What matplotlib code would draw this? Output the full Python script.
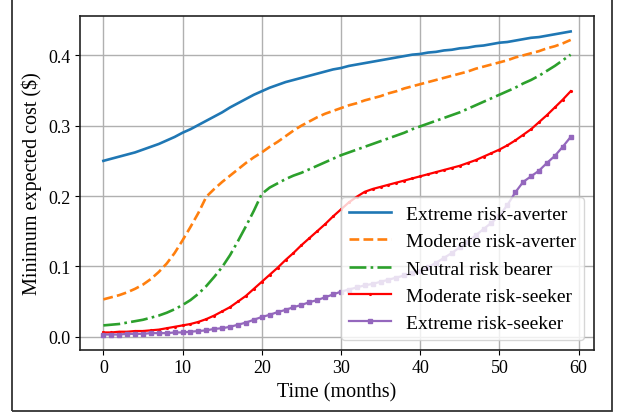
import matplotlib
matplotlib.use('Agg')
import matplotlib.pyplot as plt
from matplotlib.patches import Rectangle

# --- donnees (cout minimum attendu par mois) ---
mois = list(range(60))

extreme_averse = [0.250, 0.253, 0.256, 0.259, 0.262, 0.266, 0.270, 0.274, 0.279, 0.284,
                  0.290, 0.295, 0.301, 0.307, 0.313, 0.319, 0.326, 0.332, 0.338, 0.344,
                  0.349, 0.354, 0.358, 0.362, 0.365, 0.368, 0.371, 0.374, 0.377, 0.380,
                  0.382, 0.385, 0.387, 0.389, 0.391, 0.393, 0.395, 0.397, 0.399, 0.401,
                  0.402, 0.404, 0.405, 0.407, 0.408, 0.410, 0.411, 0.413, 0.414, 0.416,
                  0.418, 0.419, 0.421, 0.423, 0.425, 0.426, 0.428, 0.430, 0.432, 0.434]

moderate_averse = [0.053, 0.056, 0.059, 0.063, 0.068, 0.074, 0.082, 0.092, 0.104, 0.119,
                   0.137, 0.156, 0.176, 0.199, 0.210, 0.220, 0.229, 0.238, 0.247, 0.255,
                   0.262, 0.270, 0.277, 0.285, 0.293, 0.300, 0.306, 0.312, 0.317, 0.321,
                   0.325, 0.329, 0.332, 0.336, 0.339, 0.342, 0.346, 0.349, 0.353, 0.356,
                   0.359, 0.362, 0.365, 0.368, 0.371, 0.374, 0.377, 0.381, 0.384, 0.387,
                   0.390, 0.393, 0.397, 0.400, 0.403, 0.406, 0.410, 0.413, 0.417, 0.422]

neutre = [0.016, 0.017, 0.018, 0.020, 0.022, 0.024, 0.027, 0.030, 0.034, 0.039,
          0.045, 0.052, 0.061, 0.072, 0.085, 0.099, 0.116, 0.136, 0.157, 0.179,
          0.203, 0.212, 0.218, 0.224, 0.229, 0.233, 0.238, 0.243, 0.248, 0.253,
          0.258, 0.262, 0.266, 0.270, 0.274, 0.278, 0.282, 0.286, 0.290, 0.295,
          0.299, 0.303, 0.307, 0.311, 0.315, 0.319, 0.324, 0.329, 0.334, 0.339,
          0.344, 0.349, 0.354, 0.360, 0.365, 0.371, 0.378, 0.385, 0.393, 0.401]

moderate_seeker = [0.006, 0.006, 0.007, 0.007, 0.008, 0.008, 0.009, 0.010, 0.012, 0.014,
                   0.016, 0.018, 0.021, 0.025, 0.030, 0.036, 0.042, 0.050, 0.058, 0.068,
                   0.078, 0.088, 0.098, 0.109, 0.119, 0.130, 0.140, 0.150, 0.160, 0.171,
                   0.181, 0.191, 0.199, 0.206, 0.210, 0.213, 0.216, 0.219, 0.222, 0.225,
                   0.228, 0.231, 0.234, 0.237, 0.240, 0.243, 0.247, 0.251, 0.256, 0.261,
                   0.266, 0.272, 0.279, 0.287, 0.295, 0.305, 0.315, 0.326, 0.337, 0.349]

extreme_seeker = [0.003, 0.003, 0.003, 0.004, 0.004, 0.004, 0.005, 0.005, 0.005, 0.006,
                  0.006, 0.007, 0.008, 0.009, 0.011, 0.012, 0.014, 0.017, 0.020, 0.024,
                  0.028, 0.031, 0.035, 0.038, 0.042, 0.045, 0.049, 0.052, 0.056, 0.060,
                  0.064, 0.067, 0.070, 0.073, 0.075, 0.078, 0.081, 0.084, 0.087, 0.090,
                  0.094, 0.099, 0.105, 0.112, 0.119, 0.127, 0.135, 0.144, 0.153, 0.162,
                  0.172, 0.187, 0.205, 0.220, 0.228, 0.236, 0.247, 0.257, 0.270, 0.284]

labels = ['Extreme risk-averter', 'Moderate risk-averter', 'Neutral risk bearer',
          'Moderate risk-seeker', 'Extreme risk-seeker']

plt.rcParams['font.family'] = ['Liberation Serif', 'DejaVu Serif']

fig = plt.figure(figsize=(6.23, 4.14), dpi=100)
ax = fig.add_axes([0.1284, 0.1529, 0.8251, 0.8053])

ax.plot(mois, extreme_averse, color='tab:blue', lw=1.9, label=labels[0])
ax.plot(mois, moderate_averse, color='tab:orange', lw=1.9, ls='--', label=labels[1])
ax.plot(mois, neutre, color='tab:green', lw=1.9, ls='-.', label=labels[2])
ax.plot(mois, moderate_seeker, color='red', lw=1.6, marker='.', ms=2.5, label=labels[3])
ax.plot(mois, extreme_seeker, color='tab:purple', lw=1.6, marker='s', ms=3, label=labels[4])

ax.grid(True, color='#b0b0b0', lw=1.0)
ax.set_axisbelow(True)
ax.tick_params(labelsize=13)
ax.set_yticks([0.0, 0.1, 0.2, 0.3, 0.4])
ax.set_xlabel('Time (months)', fontsize=14.5)
ax.set_ylabel('Minimum expected cost (\\$)', fontsize=14.5)
for s in ax.spines.values():
    s.set_color('#222222')
    s.set_linewidth(1.2)

ax.legend(loc='lower right', fontsize=14, handlelength=2.15)

# cadre autour de la figure
fig.patches.append(Rectangle((0.0193, 0.0056), 0.9627, 1.1, transform=fig.transFigure,
                             fill=False, edgecolor='#333333', lw=1.3))

plt.savefig('out.png', dpi=100)
